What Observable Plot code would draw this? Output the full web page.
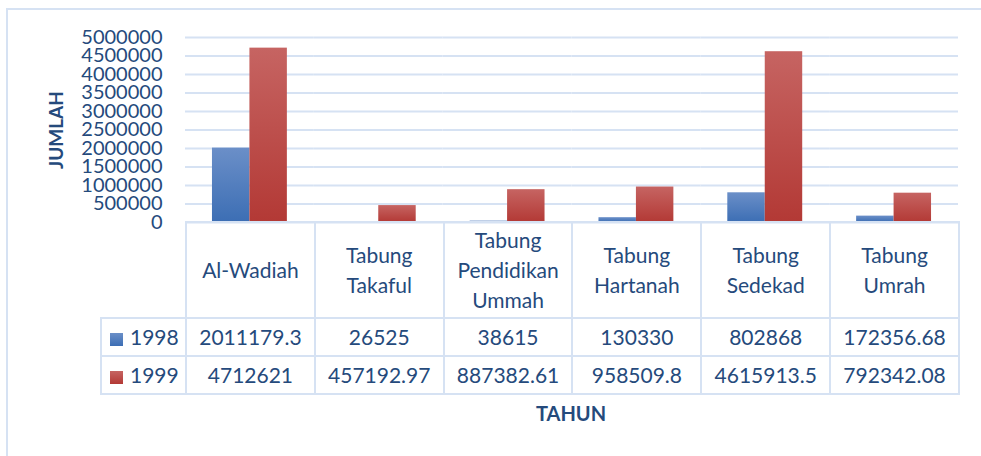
<!DOCTYPE html>
<html><head><meta charset="utf-8">
<script src="https://cdn.jsdelivr.net/npm/d3@7"></script>
<script src="https://cdn.jsdelivr.net/npm/@observablehq/plot@0.6"></script>
<style>
body{margin:0;background:#fff;}
#wrap{position:relative;width:981px;height:456px;overflow:hidden;font-family:Lato,"Open Sans",sans-serif;color:#254a7c;}
#frame{position:absolute;left:6px;top:8px;width:1100px;height:600px;border:2px solid #d6e2f3;box-sizing:border-box;}
#chart{position:absolute;left:0;top:0;}
#tbl{position:absolute;left:100px;top:221px;border-collapse:collapse;table-layout:fixed;font-size:21px;color:#254a7c;}
#tbl td{border:2px solid #d6e2f3;text-align:center;padding:0;white-space:nowrap;}
#tbl tr.head td{height:94px;line-height:30px;vertical-align:middle;}
#tbl tr.row td{height:36px;line-height:30px;}
#tbl td.blank{border-top:none;border-left:none;}
#tbl td.lab{text-align:left;padding-left:8px;}
.sw{display:inline-block;width:13px;height:13px;margin-right:7px;vertical-align:-1px;}
#ylab{position:absolute;left:55px;top:130px;transform:translate(-50%,-50%) rotate(-90deg);font-weight:bold;font-size:19px;white-space:nowrap;}
#xlab{position:absolute;left:571px;top:413px;transform:translate(-50%,-50%);font-weight:bold;font-size:20px;}
</style>
</head><body>
<div id="wrap"><div id="frame"></div><div id="chart"></div><table id="tbl"></table><div id="ylab">JUMLAH</div><div id="xlab">TAHUN</div></div>
<script>
const categories = ["Al-Wadiah","Tabung Takaful","Tabung Pendidikan Ummah","Tabung Hartanah","Tabung Sedekad","Tabung Umrah"];
const categoryLines = [["Al-Wadiah"],["Tabung","Takaful"],["Tabung","Pendidikan","Ummah"],["Tabung","Hartanah"],["Tabung","Sedekad"],["Tabung","Umrah"]];
const years = ["1998","1999"];
const values1998 = [2011179.3, 26525, 38615, 130330, 802868, 172356.68];
const values1999 = [4712621, 457192.97, 887382.61, 958509.8, 4615913.5, 792342.08];
const labels1998 = ["2011179.3","26525","38615","130330","802868","172356.68"];
const labels1999 = ["4712621","457192.97","887382.61","958509.8","4615913.5","792342.08"];
const yTicks = [0,500000,1000000,1500000,2000000,2500000,3000000,3500000,4000000,4500000,5000000];
const seriesFill = ["url(#gBlue)","url(#gRed)"];

const data = categories.flatMap((c,i)=>[
  {cat:c, year:years[0], value:values1998[i]},
  {cat:c, year:years[1], value:values1999[i]}
]);

const plot = Plot.plot({
  width: 981, height: 456,
  marginLeft: 185, marginRight: 23, marginTop: 37, marginBottom: 234,
  style: {fontFamily: 'Lato, "Open Sans", sans-serif', fontSize: "20px", color: "#254a7c", background: "transparent", overflow: "visible"},
  fx: {domain: categories, padding: 0, round: false, axis: null},
  x: {domain: years, paddingInner: 0, paddingOuter: 0.72, round: false, axis: null},
  y: {domain: [0, 5000000], axis: null},
  color: {type: "ordinal", domain: years, range: seriesFill},
  marks: [
    Plot.gridY(yTicks, {stroke: "#d6e2f3", strokeOpacity: 1, strokeWidth: 2}),
    Plot.axisY(yTicks, {tickSize: 0, tickPadding: 23, tickFormat: d => String(d), label: null, fontSize: 20}),
    Plot.barY(data, {fx: "cat", x: "year", y: "value", fill: "year"})
  ]
});

const ns = "http://www.w3.org/2000/svg";
const defs = document.createElementNS(ns, "defs");
defs.innerHTML = `
<linearGradient id="gBlue" x1="0" y1="0" x2="0" y2="1"><stop offset="0" stop-color="#6b8fc8"/><stop offset="1" stop-color="#3c6eb4"/></linearGradient>
<linearGradient id="gRed" x1="0" y1="0" x2="0" y2="1"><stop offset="0" stop-color="#c66462"/><stop offset="1" stop-color="#b33935"/></linearGradient>`;
plot.insertBefore(defs, plot.firstChild);
document.getElementById("chart").appendChild(plot);

// table built from data, column widths from the fx scale
const fx = plot.scale("fx");
const bw = fx.bandwidth;
const left0 = fx.apply(categories[0]);
const tbl = document.getElementById("tbl");
const firstW = left0 - 100;
let html = `<colgroup><col style="width:${firstW}px">` + categories.map(()=>`<col style="width:${bw}px">`).join("") + `</colgroup>`;
html += `<tr class="head"><td class="blank"></td>` + categoryLines.map(l=>`<td>${l.join("<br>")}</td>`).join("") + `</tr>`;
const swGrad = ["linear-gradient(#6b8fc8,#3c6eb4)","linear-gradient(#c66462,#b33935)"];
[labels1998, labels1999].forEach((row, k)=>{
  html += `<tr class="row"><td class="lab"><span class="sw" style="background:${swGrad[k]}"></span>${years[k]}</td>` + row.map(v=>`<td>${v}</td>`).join("") + `</tr>`;
});
tbl.innerHTML = html;
tbl.style.width = (firstW + bw*categories.length) + "px";
</script>
</body></html>
